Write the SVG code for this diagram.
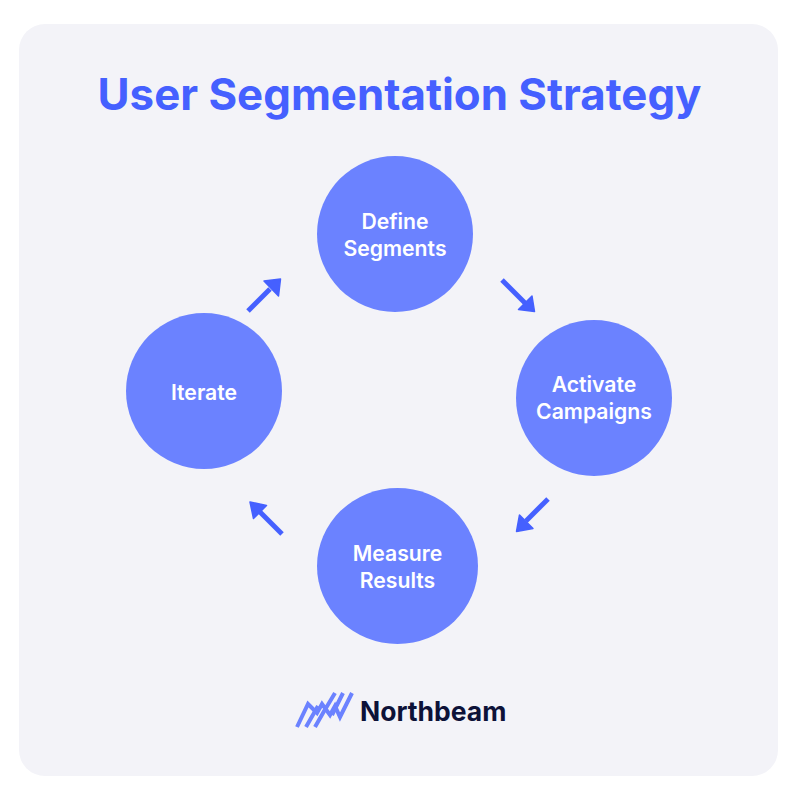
<svg xmlns="http://www.w3.org/2000/svg" width="800" height="800" viewBox="0 0 800 800">
<style>
.n{fill:#6b82ff}
.t{font-family:"Inter","Liberation Sans",sans-serif;font-weight:600;font-size:21.200px;fill:#fff;text-anchor:middle}
.c{stroke:#4560ff;stroke-width:5;fill:none}
.h{fill:#4560ff;stroke:#4560ff;stroke-width:1.500;stroke-linejoin:round}
.l{stroke:#6b82ff;stroke-width:4;fill:none;stroke-linejoin:miter}
</style>
<rect width="800" height="800" fill="#fff"/>
<rect x="19" y="24" width="759" height="752" rx="26" fill="#f3f3f8"/>
<text x="399.500" y="110" text-anchor="middle" font-family="Inter,'Liberation Sans',sans-serif" font-weight="700" font-size="43.800" fill="#4560ff">User Segmentation Strategy</text>
<g id="connectors">
<g id="c1"><path class="c" d="M248 311L270 289"/><path class="h" d="M264 281L280.500 279L278.500 296Z"/></g>
<g id="c2"><path class="c" d="M502 280L525 303"/><path class="h" d="M532 296L534.500 311.500L518.500 309.500Z"/></g>
<g id="c3"><path class="c" d="M548 499L526 521"/><path class="h" d="M519.500 515L516.500 531.500L533 528.500Z"/></g>
<g id="c4"><path class="c" d="M282 534L260 512"/><path class="h" d="M250 502L266.500 505.500L253.500 518.500Z"/></g>
</g>
<g id="define"><circle class="n" cx="395" cy="234" r="78"/><text class="t" x="395" y="229">Define</text><text class="t" x="395" y="256">Segments</text></g>
<g id="activate"><circle class="n" cx="594" cy="398" r="78"/><text class="t" x="594" y="392">Activate</text><text class="t" x="594" y="419">Campaigns</text></g>
<g id="measure"><ellipse class="n" cx="397.500" cy="566" rx="80.500" ry="78"/><text class="t" x="397.500" y="561">Measure</text><text class="t" x="397.500" y="588">Results</text></g>
<g id="iterate"><circle class="n" cx="204" cy="391" r="78"/><text class="t" x="204" y="400">Iterate</text></g>
<g id="logo">
<path class="l" d="M297 727L308 704L317 713L322 704L330 715L335 706L340 717L352 693"/>
<path class="l" d="M306 727L318 706M315 727L327 706M323 713L335 693M332 715L343 693"/>
<text x="360" y="721" font-family="Inter,'Liberation Sans',sans-serif" font-weight="700" font-size="26.500" fill="#0d1238">Northbeam</text>
</g>
</svg>
